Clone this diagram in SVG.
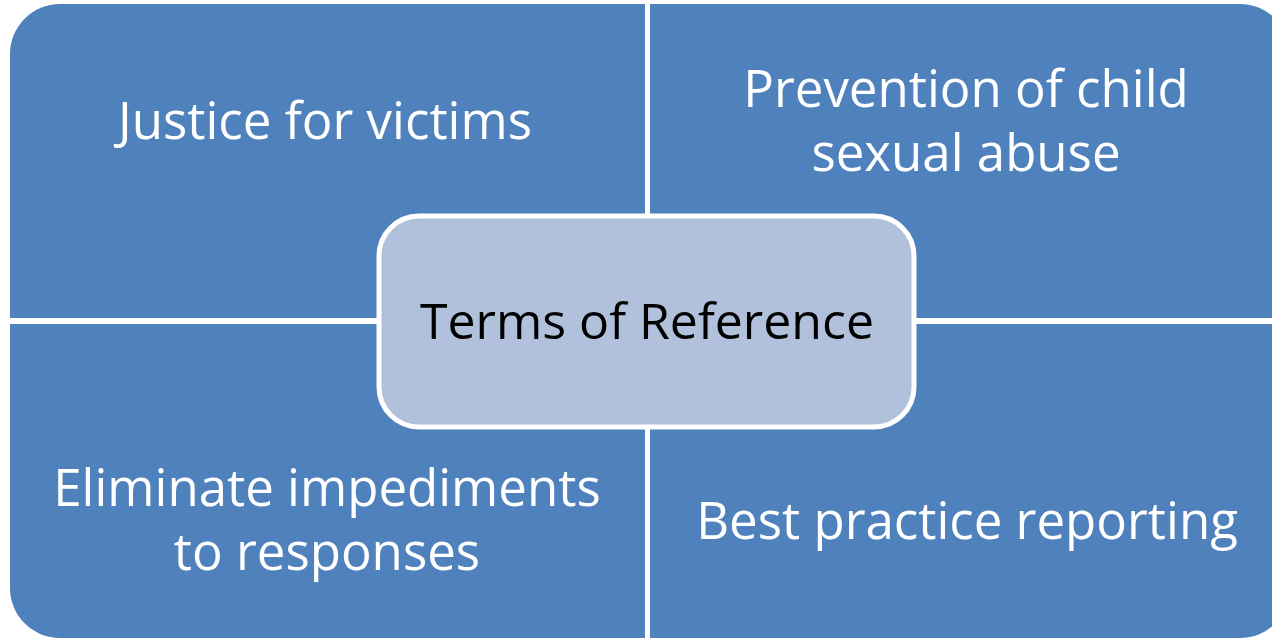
<svg xmlns="http://www.w3.org/2000/svg" width="1272" height="640" viewBox="0 0 1272 640">
<defs>
<style>
.q{fill:#4F81BD}
.t{font-family:"Open Sans","Liberation Sans",sans-serif;font-size:51px;fill:#ffffff;text-anchor:middle}
.c{font-family:"Open Sans","Liberation Sans",sans-serif;font-size:50px;fill:#000000;text-anchor:middle}
</style>
<clipPath id="outer"><rect x="10" y="4" width="1280" height="634" rx="50" ry="50"/></clipPath>
</defs>
<rect width="1272" height="640" fill="#ffffff"/>
<g clip-path="url(#outer)">
<g id="q-tl"><rect class="q" x="10" y="4" width="635" height="314"/><text class="t" x="325" y="139">Justice for victims</text></g>
<g id="q-tr"><rect class="q" x="650" y="4" width="640" height="314"/><text class="t" x="966" y="107">Prevention of child</text><text class="t" x="966" y="171">sexual abuse</text></g>
<g id="q-bl"><rect class="q" x="10" y="324" width="635" height="314"/><text class="t" x="327" y="506">Eliminate impediments</text><text class="t" x="327" y="570">to responses</text></g>
<g id="q-br"><rect class="q" x="650" y="324" width="640" height="314"/><text class="t" x="967" y="539">Best practice reporting</text></g>
</g>
<g id="connectors"></g>
<g id="center"><rect x="379" y="216" width="535" height="211" rx="40" ry="40" fill="#B1C1DC" stroke="#ffffff" stroke-width="5"/><text class="c" x="647" y="339">Terms of Reference</text></g>
</svg>
